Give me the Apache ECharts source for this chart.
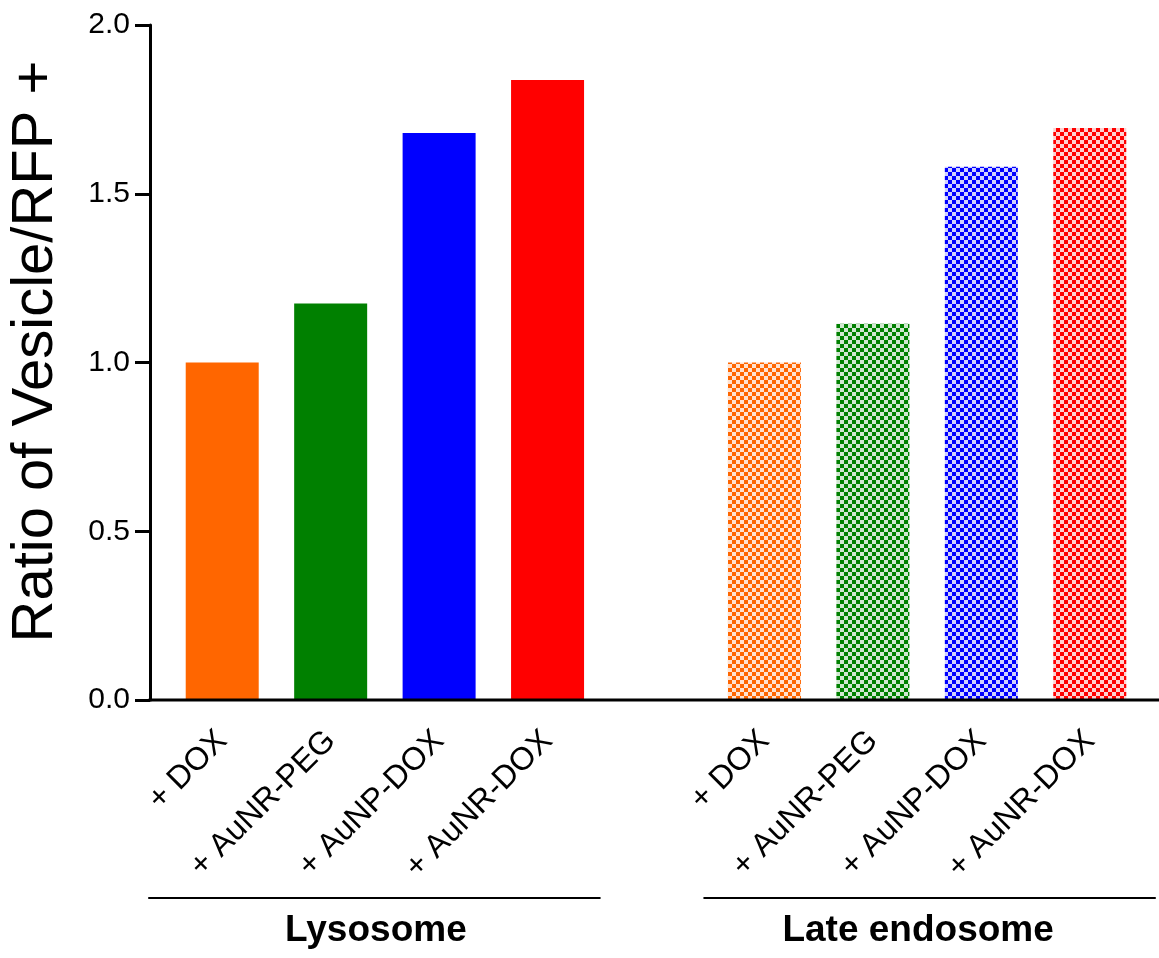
<!DOCTYPE html>
<html>
<head>
<meta charset="utf-8">
<script src="https://cdn.jsdelivr.net/npm/echarts@6/dist/echarts.min.js"></script>
<style>
  html, body { margin: 0; padding: 0; background: #fff; }
  #chart { width: 1159px; height: 958px; }
</style>
</head>
<body>
<div id="chart"></div>
<script>
// Treatments shown within each compartment
const treatments = ['+ DOX', '+ AuNR-PEG', '+ AuNP-DOX', '+ AuNR-DOX'];
// Compartment groups
const compartments = ['Lysosome', 'Late endosome'];
// Ratio of vesicle / RFP+ per treatment
const lysosomeValues = [1.0, 1.175, 1.68, 1.837];
const lateEndosomeValues = [1.0, 1.115, 1.58, 1.695];
// Y axis ticks
const yTicks = [0, 0.5, 1.0, 1.5, 2.0];
const treatmentColors = ['#FF6600', '#008000', '#0000FF', '#FF0000'];

const FONT = '"Liberation Sans", Arial, Helvetica, sans-serif';

// checkerboard fill for the late endosome bars
function checker(color) {
  const c = document.createElement('canvas');
  c.width = 8; c.height = 8;
  const g = c.getContext('2d');
  g.fillStyle = '#fff';
  g.fillRect(0, 0, 8, 8);
  g.globalAlpha = 0.18;
  g.fillStyle = color;
  g.fillRect(0, 0, 8, 8);
  g.globalAlpha = 1;
  g.fillRect(0, 0, 4, 4);
  g.fillRect(4, 4, 4, 4);
  return { image: c, repeat: 'repeat' };
}

// one empty slot separates the two compartments
const axisCats = treatments.concat([''], treatments);
const barData = [];
lysosomeValues.forEach((v, i) => barData.push({ value: v, itemStyle: { color: treatmentColors[i] } }));
barData.push('-');
lateEndosomeValues.forEach((v, i) => barData.push({ value: v, itemStyle: { color: checker(treatmentColors[i]) } }));

const chart = echarts.init(document.getElementById('chart'), null, { renderer: 'canvas' });
chart.setOption({
  animation: false,
  backgroundColor: '#fff',
  textStyle: { fontFamily: FONT },
  grid: { left: 168, right: 15, top: 25, bottom: 258, containLabel: false, outerBoundsMode: 'none' },
  xAxis: {
    type: 'category',
    data: axisCats,
    axisLine: { show: false },
    axisTick: { show: false },
    axisLabel: {
      interval: 0, rotate: 45, margin: 36,
      color: '#000', fontSize: 32, fontFamily: FONT
    }
  },
  yAxis: {
    type: 'value',
    min: yTicks[0], max: yTicks[yTicks.length - 1], interval: 0.5,
    offset: 18,
    name: 'Ratio of Vesicle/RFP +',
    nameLocation: 'middle',
    nameGap: 85,
    nameTextStyle: { color: '#000', fontSize: 58, fontFamily: FONT, padding: [0, 0, 0, 22] },
    axisLine: { show: true, lineStyle: { color: '#000', width: 3 } },
    axisTick: { show: true, length: 15, lineStyle: { color: '#000', width: 3 } },
    axisLabel: {
      margin: 20, color: '#000', fontSize: 30, fontFamily: FONT,
      formatter: v => v.toFixed(1)
    },
    splitLine: { show: false }
  },
  series: [{
    type: 'bar',
    data: barData,
    barWidth: 73
  }]
});

// baseline and compartment brackets
const px = i => chart.convertToPixel({ xAxisIndex: 0 }, i);
const y0 = chart.convertToPixel({ yAxisIndex: 0 }, 0);
const axisX = 150;
const bracketY = 898;
const groupSpans = [
  { name: compartments[0], first: 0, last: 3, padL: 74, padR: 53 },
  { name: compartments[1], first: 5, last: 8, padL: 61, padR: 66 }
];
const graphics = [{
  type: 'line',
  shape: { x1: axisX - 1.5, y1: y0, x2: 1159, y2: y0 },
  style: { stroke: '#000', lineWidth: 3 },
  z: 10
}];
groupSpans.forEach(g => {
  const a = px(g.first), b = px(g.last);
  graphics.push({
    type: 'line',
    shape: { x1: a - g.padL, y1: bracketY, x2: b + g.padR, y2: bracketY },
    style: { stroke: '#000', lineWidth: 2 }
  });
  graphics.push({
    type: 'text',
    x: (a + b) / 2 - 9, y: 931,
    style: {
      text: g.name, fill: '#000', fontSize: 37, fontWeight: 'bold',
      fontFamily: FONT, textAlign: 'center', textVerticalAlign: 'middle'
    }
  });
});
chart.setOption({ graphic: graphics });
</script>
</body>
</html>
